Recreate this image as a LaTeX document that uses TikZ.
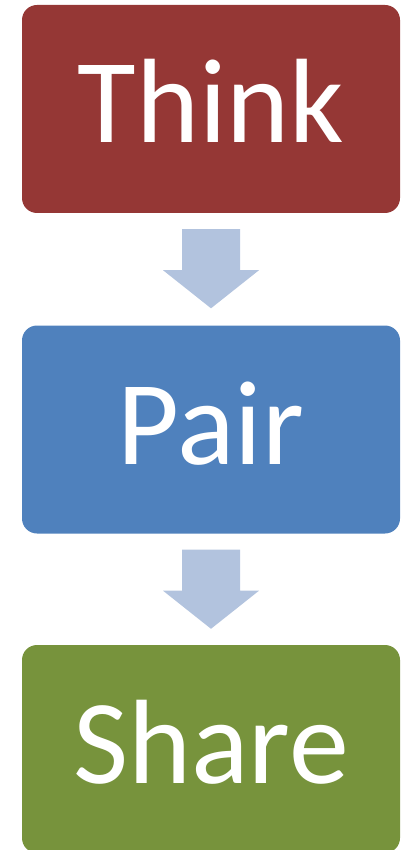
\documentclass[tikz,border=0pt]{standalone}
\usepackage{fontspec}
\setmainfont{Carlito}
\usetikzlibrary{calc}
\definecolor{thinkred}{HTML}{953735}
\definecolor{pairblue}{HTML}{4F81BD}
\definecolor{sharegreen}{HTML}{77933C}
\definecolor{arrowblue}{HTML}{B2C3DE}
\tikzset{
  stepbox/.style={rectangle, rounded corners=15pt, minimum width=378pt, minimum height=208pt, inner sep=0pt, draw=none},
  lbl/.style={text=white, font=\fontsize{120}{120}\selectfont, anchor=base, inner sep=0pt},
  blockarrow/.style={fill=arrowblue, draw=none}
}
\begin{document}
\begin{tikzpicture}[x=1pt,y=1pt]
\useasboundingbox (0,0) rectangle (401,-850);
\node[stepbox, fill=thinkred] (think) at (211,-109) {};
\node[stepbox, fill=pairblue] (pair) at (211,-429.5) {};
\node[stepbox, fill=sharegreen] (share) at (211,-749) {};
\node[lbl] (tthink) at ($(think.center)+(0,-34)$) {Think};
\node[lbl] (tpair) at ($(pair.center)+(0,-34.5)$) {Pair};
\node[lbl] (tshare) at ($(share.center)+(0,-34)$) {Share};
\fill[blockarrow] ($(think.south)+(-29,-16)$) -- ($(think.south)+(29,-16)$) -- ($(think.south)+(29,-57)$) -- ($(think.south)+(48,-57)$) -- ($(pair.north)+(0,17)$) -- ($(think.south)+(-48,-57)$) -- ($(think.south)+(-29,-57)$) -- cycle;
\fill[blockarrow] ($(pair.south)+(-29,-16)$) -- ($(pair.south)+(29,-16)$) -- ($(pair.south)+(29,-57)$) -- ($(pair.south)+(48,-57)$) -- ($(share.north)+(0,16)$) -- ($(pair.south)+(-48,-57)$) -- ($(pair.south)+(-29,-57)$) -- cycle;
\end{tikzpicture}
\end{document}
